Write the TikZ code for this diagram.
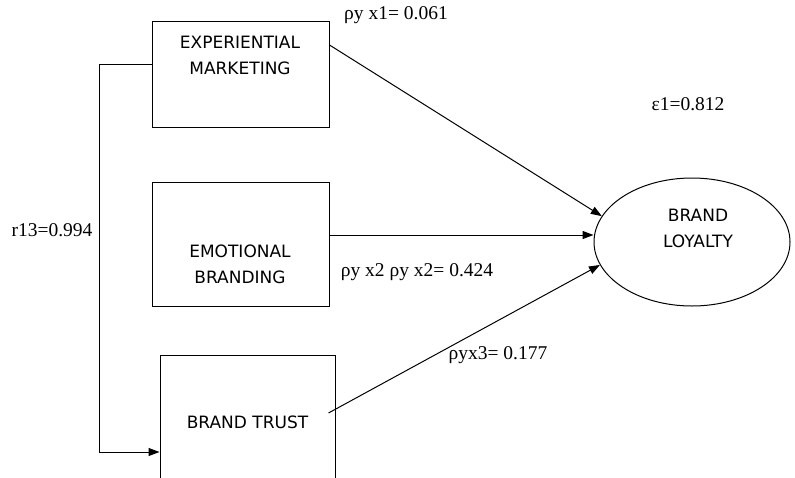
\documentclass[tikz,border=0pt]{standalone}
\usepackage{fontspec}
\setmainfont{Liberation Serif}
\newfontfamily\boxfont{DejaVu Sans}
\usetikzlibrary{shapes.geometric,arrows.meta}

\begin{document}
\begin{tikzpicture}[x=1pt,y=-1pt,
    box/.style={draw,line width=1pt,inner sep=0pt,minimum width=177pt},
    varname/.style={font=\boxfont\fontsize{17}{26}\selectfont,align=center,inner sep=0pt},
    coef/.style={font=\fontsize{19.5}{22}\selectfont,inner sep=0pt},
    arr/.style={line width=1pt,-{Triangle[length=11pt,width=8pt]}}]
    \clip (0,0) rectangle (795,477);
    %independent variables
    \node[box,minimum height=106pt] (exp) at (240.5,74) {};
    \node[varname] (expname) at (240,55) {EXPERIENTIAL\\MARKETING};
    \node[box,minimum height=124pt] (emot) at (240.5,244) {};
    \node[varname] (emotname) at (240,264) {EMOTIONAL\\BRANDING};
    \node[box,minimum width=175pt,minimum height=134pt,varname] (trust) at (247.5,422) {BRAND TRUST};
    %dependent variable
    \node[draw,ellipse,line width=1pt,minimum width=196pt,minimum height=128pt,inner sep=0pt] (loy) at (692,242) {};
    \node[varname] (loyname) at (698,228) {BRAND\\LOYALTY};
    %paths
    \draw[arr] ([yshift=29pt]exp.east) -- (loy.164);
    \draw[arr] ([yshift=9pt]emot.east) -- ([yshift=7pt]loy.west);
    \draw[arr] ([yshift=9pt,xshift=-7pt]trust.east) -- (loy.194);
    \draw[arr] ([yshift=10pt]exp.west) -- ++(-52,0) |- ([yshift=-30pt]trust.west);
    %coefficients
    \node[coef] (p1) at (396,15) {ρy x1= 0.061};
    \node[coef] (e1) at (688,104) {ε1=0.812};
    \node[coef] (r13) at (52,230) {r13=0.994};
    \node[coef] (p2) at (417,272) {ρy x2 ρy x2= 0.424};
    \node[coef] (p3) at (498,355) {ρyx3= 0.177};
\end{tikzpicture}
\end{document}
